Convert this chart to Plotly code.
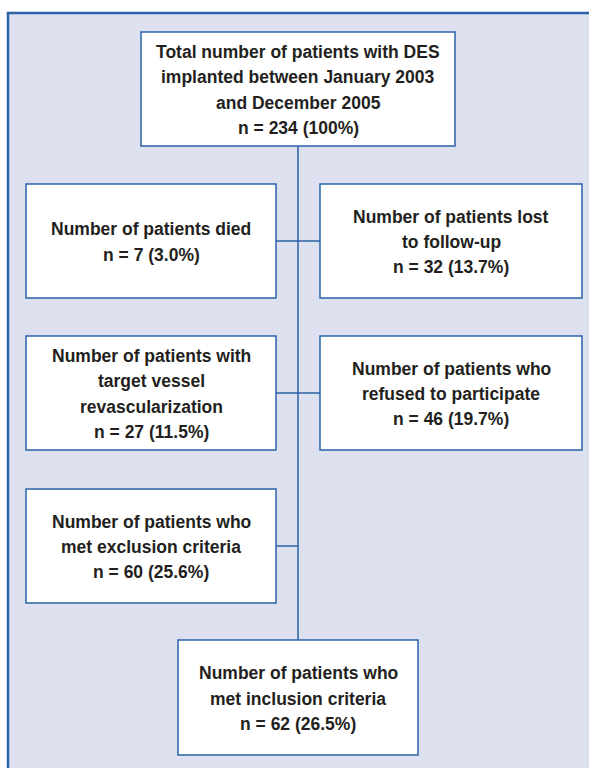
import plotly.graph_objects as go

# ---- data (text content) ----
box_titles = [
    "Total number of patients with DES<br>implanted between January 2003<br>and December 2005",
    "Number of patients died",
    "Number of patients lost<br>to follow-up",
    "Number of patients with<br>target vessel<br>revascularization",
    "Number of patients who<br>refused to participate",
    "Number of patients who<br>met exclusion criteria",
    "Number of patients who<br>met inclusion criteria",
]
box_n = [234, 7, 32, 27, 46, 60, 62]
box_pct = ["100%", "3.0%", "13.7%", "11.5%", "19.7%", "25.6%", "26.5%"]

# ---- layout geometry (pixel coordinates, y downward) ----
boxes = [
    (141, 455, 32, 146),
    (26, 276, 184, 298),
    (320, 582, 184, 298),
    (26, 276, 336, 450),
    (320, 582, 336, 450),
    (26, 276, 489, 603),
    (178, 418, 640, 755),
]
spine_x = 298
connectors = [  # (x0, x1, y)
    (276, 320, 241),
    (276, 320, 393),
    (276, 298, 546),
]
LINE_STEP = 25.3

BORDER = "#2b62a8"
PANEL = "#dde0ef"
TEXT = "#231f20"
W, H = 589, 768

fig = go.Figure()
shapes = []
shapes.append(dict(type="rect", xref="x", yref="y", x0=8, x1=640, y0=13, y1=820,
                   fillcolor=PANEL, line=dict(color=BORDER, width=2.5), layer="below"))
shapes.append(dict(type="line", xref="x", yref="y", x0=spine_x, x1=spine_x, y0=146, y1=640,
                   line=dict(color=BORDER, width=1.5)))
for x0, x1, y in connectors:
    shapes.append(dict(type="line", xref="x", yref="y", x0=x0, x1=x1, y0=y, y1=y,
                       line=dict(color=BORDER, width=1.5)))
for (x0, x1, y0, y1) in boxes:
    shapes.append(dict(type="rect", xref="x", yref="y", x0=x0, x1=x1, y0=y0, y1=y1,
                       fillcolor="white", line=dict(color=BORDER, width=1.5)))

annotations = []
for (x0, x1, y0, y1), t, n, p in zip(boxes, box_titles, box_n, box_pct):
    lines = t.split("<br>") + [f"n = {n} ({p})"]
    cx, cy = (x0 + x1) / 2, (y0 + y1) / 2
    k = len(lines)
    for i, ln in enumerate(lines):
        annotations.append(dict(
            x=cx, y=cy + (i - (k - 1) / 2) * LINE_STEP + 1, xref="x", yref="y",
            text=ln, showarrow=False,
            font=dict(family="Liberation Sans, Arial, sans-serif", size=17.5,
                      color=TEXT, weight="bold"),
            align="center", xanchor="center", yanchor="middle",
        ))

fig.update_layout(
    width=W, height=H, margin=dict(l=0, r=0, t=0, b=0),
    paper_bgcolor="white", plot_bgcolor="white",
    xaxis=dict(range=[0, W], visible=False, fixedrange=True),
    yaxis=dict(range=[H, 0], visible=False, fixedrange=True),
    shapes=shapes, annotations=annotations, showlegend=False,
)
fig.write_html(
    "out.html",
    config={"displayModeBar": False},
    post_script="document.body.style.margin='0';document.body.style.overflow='hidden';",
)
